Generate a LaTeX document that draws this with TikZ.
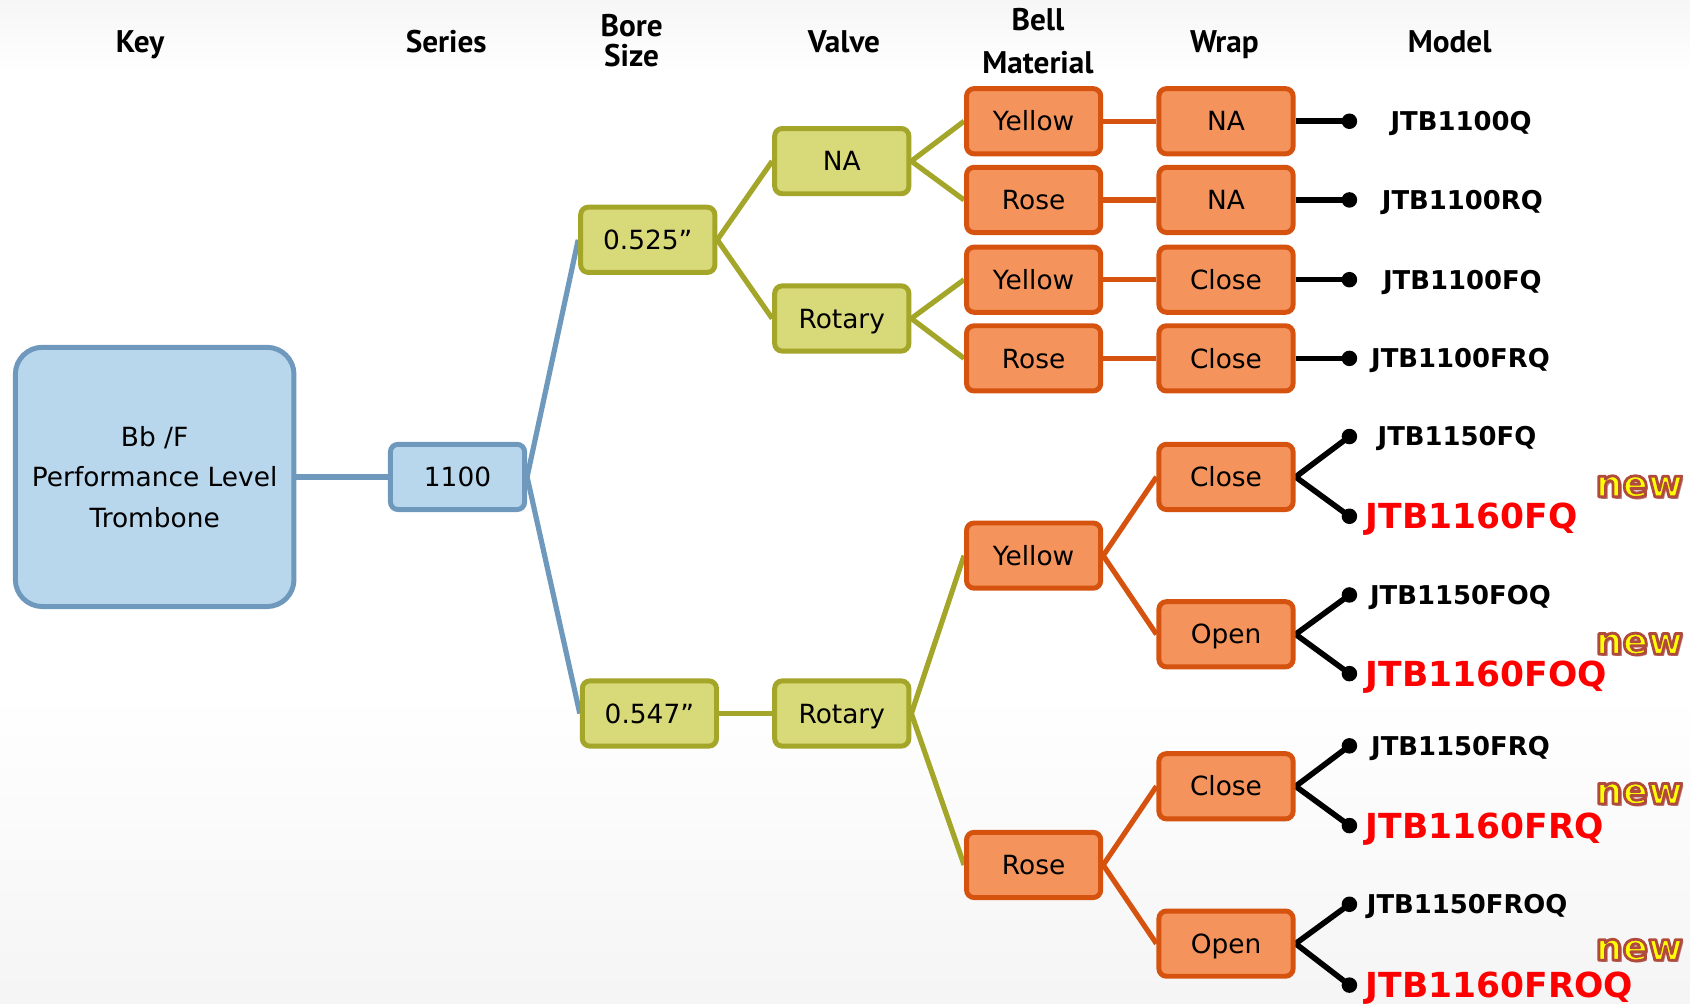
\documentclass[tikz,border=0pt]{standalone}
\usepackage{fontspec}
\setmainfont{DejaVu Sans}
\newfontfamily\hdrfont{PT Sans}
\definecolor{bfill}{HTML}{B8D7EC}
\definecolor{bline}{HTML}{6F98BD}
\definecolor{gfill}{HTML}{D8DA7A}
\definecolor{gline}{HTML}{A3A628}
\definecolor{ofill}{HTML}{F4945C}
\definecolor{oline}{HTML}{D6530F}
\definecolor{newyel}{HTML}{FFFF00}
\definecolor{newshd}{HTML}{C08080}
\definecolor{lblred}{HTML}{FF0000}
\pgfdeclarelayer{bgzero}
\pgfdeclarelayer{wires}
\pgfsetlayers{bgzero,wires,main}
\tikzset{
  boxbase/.style={draw, line width=4.6pt, rounded corners=7pt, minimum width=124.5pt,
    minimum height=60.5pt, inner sep=0pt, text height=17.9pt, text depth=0pt,
    font=\fontsize{24.5}{29}\selectfont},
  bluebox/.style={boxbase, fill=bfill, draw=bline},
  greenbox/.style={boxbase, fill=gfill, draw=gline},
  orangebox/.style={boxbase, fill=ofill, draw=oline},
  hdr/.style={font=\hdrfont\bfseries\fontsize{29}{40}\selectfont, inner sep=0pt},
  mdl/.style={anchor=west, inner sep=0pt, text height=17.5pt, text depth=0pt,
    font=\bfseries\fontsize{24}{28}\selectfont},
  newmdl/.style={anchor=west, inner sep=0pt, text height=23.4pt, text depth=0pt,
    text=lblred, font=\bfseries\fontsize{32}{36}\selectfont},
  newtxt/.style={anchor=base, inner sep=0pt, font=\bfseries\fontsize{35}{40}\selectfont},
  bwire/.style={line width=4.8pt, draw=bline},
  gwire/.style={line width=4.8pt, draw=gline},
  owire/.style={line width=4.8pt, draw=oline},
  kwire/.style={line width=5.2pt, draw=black},
  dotmark/.style={fill=black},
}
\newcommand\outlinednew{{\color{newyel}\special{pdf:literal direct 2 Tr 2.6 w 1 j 0.69 0.29 0.24 RG}new\special{pdf:literal direct 0 Tr}}}
\newcommand\newbadge[2]{%
  \node[newtxt, text=newshd] (#1s) at ($(#2)+(2.2,2.2)$) {new};
  \node[newtxt] (#1) at (#2) {\outlinednew};
}
\usetikzlibrary{calc}
\begin{document}
\begin{tikzpicture}[x=1pt, y=-1pt]
\useasboundingbox (0,0) rectangle (1568,931);
\begin{pgfonlayer}{bgzero}
  \fill[white] (0,0) rectangle (1568,931);
  \shade[top color=gray!7, bottom color=white] (0,0) rectangle (1568,68);
  \shade[top color=white, bottom color=gray!8] (0,640) rectangle (1568,931);
\end{pgfonlayer}

% headers
\node[hdr, anchor=base] (hkey) at (130,49) {Key};
\node[hdr, anchor=base] (hser) at (414,49) {Series};
\node[hdr, align=center, font=\hdrfont\bfseries\fontsize{29}{28}\selectfont] (hbore) at (586,38) {Bore\\Size};
\node[hdr, anchor=base] (hval) at (783,49) {Valve};
\node[hdr, align=center] (hbell) at (963,38) {Bell\\Material};
\node[hdr, anchor=base] (hwrap) at (1136,49) {Wrap};
\node[hdr, anchor=base] (hmod) at (1345,49) {Model};

% key and series
\node[bluebox, minimum width=258.5pt, minimum height=240.5pt, rounded corners=25pt,
  align=center, text height=, font=\fontsize{24.5}{38}\selectfont] (key) at (143.5,442.5)
  {Bb /F\\Performance Level\\Trombone};
\node[bluebox] (s1100) at (424.5,442.5) {1100};

% bore
\node[greenbox] (b525) at (601,222.5) {0.525”};
\node[greenbox] (b547) at (602.5,662) {0.547”};

% valve
\node[greenbox] (vna) at (781,149.5) {NA};
\node[greenbox] (vrot1) at (781,295.5) {Rotary};
\node[greenbox] (vrot2) at (781,662) {Rotary};

% bell material
\node[orangebox] (m1) at (959,112.5) {Yellow};
\node[orangebox] (m2) at (959,185.5) {Rose};
\node[orangebox] (m3) at (959,259.5) {Yellow};
\node[orangebox] (m4) at (959,332.5) {Rose};
\node[orangebox] (m5) at (959,515.5) {Yellow};
\node[orangebox] (m6) at (959,802.5) {Rose};

% wrap
\node[orangebox] (w1) at (1137.5,112.5) {NA};
\node[orangebox] (w2) at (1137.5,185.5) {NA};
\node[orangebox] (w3) at (1137.5,259.5) {Close};
\node[orangebox] (w4) at (1137.5,332.5) {Close};
\node[orangebox] (w5) at (1137.5,442.5) {Close};
\node[orangebox] (w6) at (1137.5,588.5) {Open};
\node[orangebox] (w7) at (1137.5,729.5) {Close};
\node[orangebox] (w8) at (1137.5,875.5) {Open};

% dots
\coordinate (d1) at (1252,112.5);
\coordinate (d2) at (1252,185.5);
\coordinate (d3) at (1252,259.5);
\coordinate (d4) at (1252,332.5);
\coordinate (d5a) at (1252,405);
\coordinate (d5b) at (1252,479);
\coordinate (d6a) at (1252,552);
\coordinate (d6b) at (1252,625);
\coordinate (d7a) at (1252,692);
\coordinate (d7b) at (1252,766);
\coordinate (d8a) at (1252,839);
\coordinate (d8b) at (1252,914);

% model labels
\node[mdl] (l1) at (1290,112.5) {JTB1100Q};
\node[mdl] (l2) at (1282,185.5) {JTB1100RQ};
\node[mdl] (l3) at (1283,259.5) {JTB1100FQ};
\node[mdl] (l4) at (1272,332.5) {JTB1100FRQ};
\node[mdl] (l5a) at (1278,405) {JTB1150FQ};
\node[newmdl] (l5b) at (1267,479) {JTB1160FQ};
\node[mdl] (l6a) at (1271,552) {JTB1150FOQ};
\node[newmdl] (l6b) at (1267,625) {JTB1160FOQ};
\node[mdl] (l7a) at (1272,692) {JTB1150FRQ};
\node[newmdl] (l7b) at (1267,766) {JTB1160FRQ};
\node[mdl] (l8a) at (1268,839) {JTB1150FROQ};
\node[newmdl] (l8b) at (1267,914) {JTB1160FROQ};

% new badges
\coordinate (n1) at (1521,461);
\coordinate (n2) at (1521,607);
\coordinate (n3) at (1521,746);
\coordinate (n4) at (1521,891);
\newbadge{nb1}{n1}
\newbadge{nb2}{n2}
\newbadge{nb3}{n3}
\newbadge{nb4}{n4}

% connectors
\begin{pgfonlayer}{wires}
  \draw[bwire] (key.east) -- (s1100.west);
  \draw[bwire] (s1100.east) -- (b525.west);
  \draw[bwire] (s1100.east) -- (b547.west);
  \draw[gwire] (b525.east) -- (vna.west);
  \draw[gwire] (b525.east) -- (vrot1.west);
  \draw[gwire] (b547.east) -- (vrot2.west);
  \draw[gwire] (vna.east) -- (m1.west);
  \draw[gwire] (vna.east) -- (m2.west);
  \draw[gwire] (vrot1.east) -- (m3.west);
  \draw[gwire] (vrot1.east) -- (m4.west);
  \draw[gwire] (vrot2.east) -- (m5.west);
  \draw[gwire] (vrot2.east) -- (m6.west);
  \draw[owire] (m1.east) -- (w1.west);
  \draw[owire] (m2.east) -- (w2.west);
  \draw[owire] (m3.east) -- (w3.west);
  \draw[owire] (m4.east) -- (w4.west);
  \draw[owire] (m5.east) -- (w5.west);
  \draw[owire] (m5.east) -- (w6.west);
  \draw[owire] (m6.east) -- (w7.west);
  \draw[owire] (m6.east) -- (w8.west);
  \draw[kwire] (w1.east) -- (d1);
  \draw[kwire] (w2.east) -- (d2);
  \draw[kwire] (w3.east) -- (d3);
  \draw[kwire] (w4.east) -- (d4);
  \draw[kwire] (w5.east) -- (d5a);
  \draw[kwire] (w5.east) -- (d5b);
  \draw[kwire] (w6.east) -- (d6a);
  \draw[kwire] (w6.east) -- (d6b);
  \draw[kwire] (w7.east) -- (d7a);
  \draw[kwire] (w7.east) -- (d7b);
  \draw[kwire] (w8.east) -- (d8a);
  \draw[kwire] (w8.east) -- (d8b);
\end{pgfonlayer}
\foreach \d in {d1,d2,d3,d4,d5a,d5b,d6a,d6b,d7a,d7b,d8a,d8b}{
  \fill[dotmark] (\d) circle (7.2pt);
}
\end{tikzpicture}
\end{document}
